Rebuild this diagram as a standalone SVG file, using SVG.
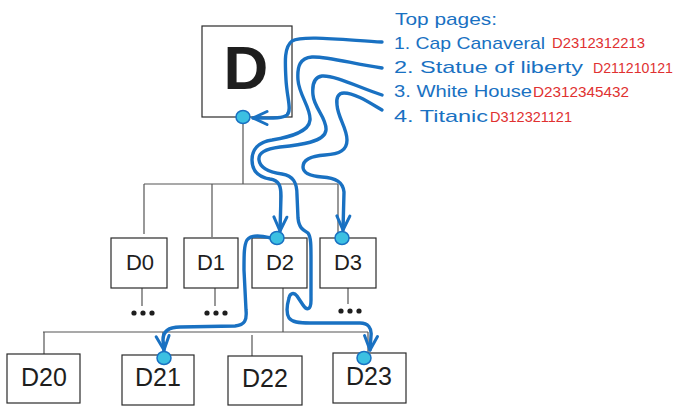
<svg xmlns="http://www.w3.org/2000/svg" width="680" height="412" viewBox="0 0 680 412">
<style>
.box{fill:#fff;stroke:#2a2a2a;stroke-width:1.2}
.tree{fill:none;stroke:#555;stroke-width:1.2}
.lbl{font-family:"Liberation Sans",Arial,sans-serif;fill:#1e1e1e;text-anchor:middle}
.dot{fill:#1e1e1e}
.pin{fill:#3cc0e2;stroke:#1971c2;stroke-width:1.5}
.link{fill:none;stroke:#1971c2;stroke-width:3.4;stroke-linecap:round;stroke-linejoin:round}
.list{font-family:"Liberation Sans",Arial,sans-serif;fill:#1971c2;font-size:17px}
.code{font-family:"Liberation Sans",Arial,sans-serif;fill:#e03131;font-size:14px}
</style>
<defs>
<marker id="ah" markerUnits="userSpaceOnUse" markerWidth="24" markerHeight="24" viewBox="-18 -12 24 24" refX="0" refY="0" orient="auto">
<path d="M-14,-6.5 L0,0 L-14,6.5" fill="none" stroke="#1971c2" stroke-width="3" stroke-linecap="round" stroke-linejoin="round"/>
</marker>
</defs>

<g id="tree-lines">
<path class="tree" d="M243,123 V184 M144,184 H338 M144,184 V234 M212,184 V237 M280,184 V234 M338,184 V237"/>
<path class="tree" d="M142,288 V306 M215,288 V306 M348,288 V304 M283,288 V332 M43,332 H368 M44,332 V354 M163,332 V355 M252,335 V356 M368,332 V353"/>
</g>

<g id="node-D">
<rect class="box" x="202" y="26" width="90" height="91"/>
<text class="lbl" x="246" y="89" font-size="62" font-weight="bold">D</text>
</g>
<g id="node-D0">
<rect class="box" x="111" y="238" width="56" height="50"/>
<text class="lbl" x="140" y="270" font-size="22">D0</text>
<circle class="dot" cx="134" cy="313" r="2.6"/><circle class="dot" cx="143" cy="313" r="2.6"/><circle class="dot" cx="152" cy="313" r="2.6"/>
</g>
<g id="node-D1">
<rect class="box" x="184" y="238" width="54" height="50"/>
<text class="lbl" x="211" y="270" font-size="22">D1</text>
<circle class="dot" cx="207" cy="313" r="2.6"/><circle class="dot" cx="216" cy="313" r="2.6"/><circle class="dot" cx="225" cy="313" r="2.6"/>
</g>
<g id="node-D2">
<rect class="box" x="252" y="238" width="55" height="50"/>
<text class="lbl" x="280" y="270" font-size="22">D2</text>
</g>
<g id="node-D3">
<rect class="box" x="320" y="238" width="56" height="50"/>
<text class="lbl" x="348" y="270" font-size="22">D3</text>
<circle class="dot" cx="341" cy="311" r="2.6"/><circle class="dot" cx="350" cy="311" r="2.6"/><circle class="dot" cx="359" cy="311" r="2.6"/>
</g>
<g id="node-D20">
<rect class="box" x="7" y="354" width="73" height="49"/>
<text class="lbl" x="44" y="386" font-size="25">D20</text>
</g>
<g id="node-D21">
<rect class="box" x="122" y="355" width="72" height="50"/>
<text class="lbl" x="158" y="386" font-size="25">D21</text>
</g>
<g id="node-D22">
<rect class="box" x="228" y="356" width="74" height="49"/>
<text class="lbl" x="265" y="387" font-size="25">D22</text>
</g>
<g id="node-D23">
<rect class="box" x="333" y="353" width="73" height="50"/>
<text class="lbl" x="369" y="385" font-size="25">D23</text>
</g>

<g id="top-pages">
<text class="list" x="395" y="25" textLength="102" lengthAdjust="spacingAndGlyphs">Top pages:</text>
<text class="list" x="394" y="49" textLength="151" lengthAdjust="spacingAndGlyphs">1. Cap Canaveral</text>
<text class="list" x="394" y="73" textLength="189" lengthAdjust="spacingAndGlyphs">2. Statue of liberty</text>
<text class="list" x="394" y="97" textLength="138" lengthAdjust="spacingAndGlyphs">3. White House</text>
<text class="list" x="394" y="122" textLength="94" lengthAdjust="spacingAndGlyphs">4. Titanic</text>
<text class="code" x="552" y="48" textLength="93" lengthAdjust="spacingAndGlyphs">D2312312213</text>
<text class="code" x="593" y="73" textLength="80" lengthAdjust="spacingAndGlyphs">D211210121</text>
<text class="code" x="533" y="97" textLength="96" lengthAdjust="spacingAndGlyphs">D2312345432</text>
<text class="code" x="490" y="122" textLength="82" lengthAdjust="spacingAndGlyphs">D312321121</text>
</g>

<g id="connectors">
<path class="link" marker-end="url(#ah)" d="M382,42 C345,40 302,35 292,41 C284,47 285,62 286,80 C287,98 292,110 287,115 C282,119 270,118 253,118"/>
<path class="link" marker-end="url(#ah)" d="M382,68 C350,63 325,56 312,57 C300,58 297,66 298,80 C299,95 311,108 310,120 C309,132 290,137 272,140 C258,142 252,150 252,160 C252,171 258,177 270,179 C279,180 281,186 281,196 L280,231"/>
<path class="link" marker-end="url(#ah)" d="M382,95 C360,88 335,75 322,76 C314,77 312,85 313,95 C314,108 327,118 326,130 C325,142 300,145 280,147 C265,149 258,153 259,160 C260,168 268,172 282,174 C293,176 297,182 297,195 L298,218 C299,228 303,230 308,233 C311,237 311,245 311,260 L311,300 C311,310 307,311 303,305 L297,296 C294,292 290,293 289,298 C287,305 286,313 289,318 C292,322 298,323 310,323 L360,323 C368,323 372,328 371,336 L370,350"/>
<path class="link" marker-end="url(#ah)" d="M382,110 C370,103 355,93 344,93 C338,93 336,98 337,105 C338,118 347,128 347,140 C347,150 340,154 325,155 C310,156 303,160 303,167 C303,173 310,176 322,177 C336,178 343,182 344,192 L343,230"/>
<path class="link" marker-end="url(#ah)" d="M271,238 C262,236 252,234 247,240 C244,245 244,255 244,270 L246,310 C247,320 245,325 235,326 L180,327 C168,327 163,332 163,340 L164,350"/>
</g>

<g id="pins">
<ellipse class="pin" cx="243" cy="117" rx="7" ry="6.5"/>
<ellipse class="pin" cx="277" cy="238" rx="7" ry="6.5"/>
<ellipse class="pin" cx="342" cy="238" rx="7" ry="6.5"/>
<ellipse class="pin" cx="164" cy="358" rx="7" ry="6.5"/>
<ellipse class="pin" cx="364" cy="358" rx="7" ry="6.5"/>
</g>
</svg>
